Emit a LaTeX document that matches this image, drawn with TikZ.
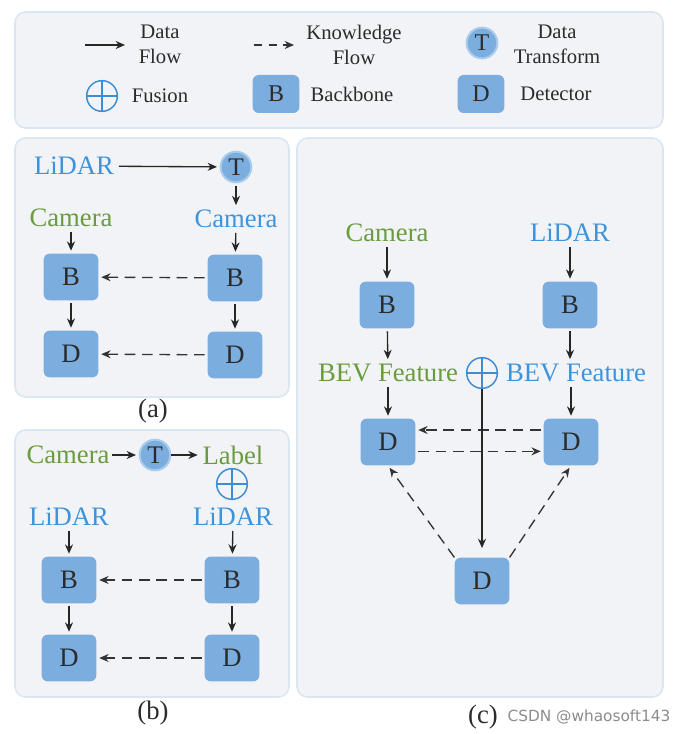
\documentclass[tikz,border=0pt]{standalone}
\usepackage{fontspec}
\setmainfont{Liberation Serif}
\newfontfamily\wmfont{DejaVu Sans}
\usepackage{tikz}
\usetikzlibrary{arrows.meta}
\usetikzlibrary{positioning}

\definecolor{panelbg}{HTML}{F2F3F6}
\definecolor{panelline}{HTML}{D9E7F4}
\definecolor{blkblue}{HTML}{7BAEDF}
\definecolor{tglow}{HTML}{A9CCEC}
\definecolor{fuseblue}{HTML}{3C8DD3}
\definecolor{txtblue}{HTML}{3F93DA}
\definecolor{txtgreen}{HTML}{6A9B3F}
\definecolor{legtext}{HTML}{2B2B2B}

\tikzset{
  panel/.style={draw=panelline, fill=panelbg, line width=1.2pt, rounded corners=8pt},
  blk/.style={fill=blkblue, rounded corners=4.5pt, minimum width=41pt, minimum height=35pt,
    inner sep=0pt, text=legtext, font=\fontsize{20}{24}\selectfont},
  smallblk/.style={blk, minimum width=35pt, minimum height=28.5pt, font=\fontsize{18}{22}\selectfont},
  tcirc/.style={circle, fill=blkblue, draw=tglow, line width=1.5pt, minimum size=23pt,
    inner sep=0pt, text=legtext, font=\fontsize{19}{22}\selectfont},
  fuse/.style={circle, draw=fuseblue, line width=1.1pt, minimum size=23pt, inner sep=0pt,
    path picture={\draw[fuseblue, line width=1.1pt]
      (path picture bounding box.north) -- (path picture bounding box.south)
      (path picture bounding box.west) -- (path picture bounding box.east);}},
  lbl/.style={font=\fontsize{20}{24}\selectfont, inner sep=1.5pt},
  blue lbl/.style={lbl, text=txtblue},
  green lbl/.style={lbl, text=txtgreen},
  leg/.style={font=\fontsize{15.5}{18.75}\selectfont, align=center, text=legtext},
  flow/.style={-{Stealth[length=7pt,width=6pt]}, line width=1pt, draw=black!85,
    shorten >=2pt, shorten <=2pt},
  kflow/.style={flow, dash pattern=on 8pt off 5pt, line width=1pt, draw=black!80},
}

\begin{document}
\begin{tikzpicture}[x=0.75pt, y=-0.75pt]
  \useasboundingbox (0,0) rectangle (684,734);

  % panels
  \draw[panel] (15,12) rectangle (663,128);
  \draw[panel] (15,138) rectangle (289,397);
  \draw[panel] (15,430) rectangle (289,697);
  \draw[panel] (297,138) rectangle (663,697);

  % legend
  \coordinate (dfa) at (85,45);
  \coordinate (dfb) at (125,45);
  \coordinate (kfa) at (254,45);
  \coordinate (kfb) at (294,45);
  \draw[flow, shorten <=0pt, shorten >=0pt] (dfa) -- (dfb);
  \draw[kflow, shorten <=0pt, shorten >=0pt, dash pattern=on 6pt off 5pt] (kfa) -- (kfb);
  \node[leg] (ldf) at (160,44.5) {Data\\Flow};
  \node[leg] (lkf) at (354,44.5) {Knowledge\\Flow};
  \node[tcirc, font=\fontsize{18}{22}\selectfont] (lt) at (482,43) {T};
  \node[leg] (ldt) at (557,44.5) {Data\\Transform};
  \node[fuse] (lfuse) at (102,96) {};
  \node[leg] (lfus) at (160,96) {Fusion};
  \node[smallblk] (lb) at (276,94) {B};
  \node[leg] (lbb) at (352,94) {Backbone};
  \node[smallblk] (ld) at (481,94) {D};
  \node[leg] (ldet) at (556,94) {Detector};

  % (a)
  \node[blue lbl] (alid) at (74,166) {LiDAR};
  \node[tcirc] (at) at (236,167) {T};
  \node[green lbl] (acaml) at (71,218) {Camera};
  \node[blue lbl] (acamr) at (236,219) {Camera};
  \node[blk] (ab1) at (71,277) {B};
  \node[blk] (ab2) at (235,278) {B};
  \node[blk] (ad1) at (71,354) {D};
  \node[blk] (ad2) at (235,355) {D};
  \draw[flow] (alid) -- (at);
  \draw[flow] (at) -- (acamr);
  \draw[flow] (acaml) -- (ab1);
  \draw[flow] (acamr) -- (ab2);
  \draw[flow] (ab1) -- (ad1);
  \draw[flow] (ab2) -- (ad2);
  \draw[kflow] (ab2) -- (ab1);
  \draw[kflow] (ad2) -- (ad1);
  \node[lbl, text=legtext] (alab) at (153,411) {(a)};

  % (b)
  \node[green lbl] (bcam) at (68,455) {Camera};
  \node[tcirc] (bt) at (155,455) {T};
  \node[green lbl] (blab) at (233,455) {Label};
  \node[fuse] (bfuse) at (232,484) {};
  \node[blue lbl] (blidl) at (69,517) {LiDAR};
  \node[blue lbl] (blidr) at (233,517) {LiDAR};
  \node[blk] (bb1) at (69,580) {B};
  \node[blk] (bb2) at (232,580) {B};
  \node[blk] (bd1) at (69,658) {D};
  \node[blk] (bd2) at (232,658) {D};
  \draw[flow, shorten <=0pt] (bcam) -- (bt);
  \draw[flow, shorten <=0pt] (bt) -- (blab);
  \draw[flow] (blidl) -- (bb1);
  \draw[flow] (blidr) -- (bb2);
  \draw[flow] (bb1) -- (bd1);
  \draw[flow] (bb2) -- (bd2);
  \draw[kflow] (bb2) -- (bb1);
  \draw[kflow] (bd2) -- (bd1);
  \node[lbl, text=legtext] (blabc) at (153,713) {(b)};

  % (c)
  \node[green lbl] (ccam) at (387,233) {Camera};
  \node[blue lbl] (clid) at (570,233) {LiDAR};
  \node[blk] (cb1) at (387,305) {B};
  \node[blk] (cb2) at (570,305) {B};
  \node[green lbl] (cbevl) at (388,373) {BEV Feature};
  \node[fuse] (cfuse) at (482,373) {};
  \node[blue lbl] (cbevr) at (576,373) {BEV Feature};
  \node[blk] (cd1) at (388,442) {D};
  \node[blk] (cd2) at (571,442) {D};
  \node[blk] (cd3) at (482,581) {D};
  \draw[flow] (ccam) -- (cb1);
  \draw[flow] (clid) -- (cb2);
  \draw[flow] (cb1) -- (cbevl);
  \draw[flow] (cb2) -- (cb2 |- cbevr.north);
  \draw[flow] (cbevl) -- (cd1);
  \draw[flow] (cbevr.south -| cd2) -- (cd2);
  \draw[kflow] ([yshift=9pt]cd2.west) -- ([yshift=9pt]cd1.east);
  \draw[kflow] ([yshift=-7pt]cd1.east) -- ([yshift=-7pt]cd2.west);
  \draw[kflow, shorten <=0pt] (cd3.north west) -- (cd1.south);
  \draw[kflow, shorten <=0pt] (cd3.north east) -- (cd2.south);
  \draw[flow, shorten <=0pt, shorten >=7pt] (cfuse) -- (cd3);
  \node[lbl, text=legtext] (clabc) at (483,717) {(c)};
  \node[text=black!45, font=\wmfont\fontsize{11.5}{14}\selectfont] (wm) at (589,717) {CSDN @whaosoft143};
\end{tikzpicture}
\end{document}
